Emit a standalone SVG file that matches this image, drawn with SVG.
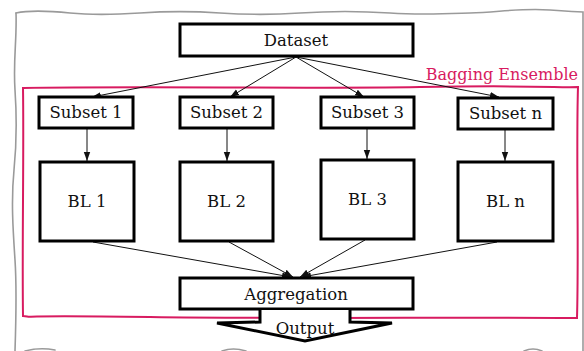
<svg xmlns="http://www.w3.org/2000/svg" width="584" height="351" viewBox="0 0 584 351">
  <style>
    .box { fill: #ffffff; stroke: #000000; stroke-width: 3; }
    .lbl { font-family: "DejaVu Serif", "Liberation Serif", serif; font-size: 16.5px; fill: #111111; text-anchor: middle; }
    .edge { stroke: #111111; stroke-width: 1; fill: none; marker-end: url(#arrow); }
    .frame { fill: none; stroke: #9a9a9a; stroke-width: 1.6; stroke-linecap: round; }
    .ensemble { fill: none; stroke: #d81b60; stroke-width: 2; }
  </style>
  <defs>
    <marker id="arrow" markerUnits="userSpaceOnUse" markerWidth="10" markerHeight="8" refX="9" refY="4" orient="auto">
      <path d="M0,0.8 L9,4 L0,7.2 Z" fill="#111111"/>
    </marker>
  </defs>

  <rect width="584" height="351" fill="#ffffff"/>

  <!-- torn paper outline -->
  <g id="paper">
    <path class="frame" d="M16 13 C30 10 50 11 70 13 S110 15 140 13 S190 11 220 13 S270 15 300 13 S360 11 390 13 S440 14 470 13 S520 8 550 10 S575 12 583 12 L583 351"/>
    <path class="frame" d="M16 13 C17 40 13 60 15 90 S17 140 14 170 S13 230 15 260 S16 320 15 351"/>
    <path class="frame" d="M25 351 Q40 347 55 350"/>
    <path class="frame" d="M222 351 Q233 347 246 351"/>
    <path class="frame" d="M524 351 Q533 347 542 351"/>
  </g>

  <!-- ensemble boundary -->
  <g id="ensemble">
    <path class="ensemble" d="M23 88 C150 86 300 89 420 87 S560 88 578 87 C576 150 579 250 577 318 C450 317 300 319 150 317 S40 318 23 316 C22 250 24 150 23 88 Z"/>
    <text x="578" y="80" font-family="DejaVu Serif, Liberation Serif, serif" font-size="16" fill="#d81b60" text-anchor="end">Bagging Ensemble</text>
  </g>

  <!-- connectors -->
  <g id="connectors">
    <line class="edge" x1="296" y1="57" x2="92" y2="97"/>
    <line class="edge" x1="296" y1="57" x2="230" y2="97"/>
    <line class="edge" x1="296" y1="57" x2="364" y2="97"/>
    <line class="edge" x1="296" y1="57" x2="499" y2="97"/>

    <line class="edge" x1="87" y1="129" x2="87" y2="161"/>
    <line class="edge" x1="227" y1="129" x2="227" y2="161"/>
    <line class="edge" x1="367" y1="129" x2="367" y2="159"/>
    <line class="edge" x1="505" y1="130" x2="505" y2="161"/>

    <line class="edge" x1="93" y1="242" x2="291" y2="277"/>
    <line class="edge" x1="229" y1="242" x2="293" y2="277"/>
    <line class="edge" x1="365" y1="240" x2="300" y2="277"/>
    <line class="edge" x1="497" y1="242" x2="302" y2="277"/>
  </g>

  <g id="dataset">
    <rect class="box" x="180" y="24" width="233" height="32"/>
    <text class="lbl" x="296" y="46">Dataset</text>
  </g>

  <g id="subset1">
    <rect class="box" x="39" y="97" width="94" height="31"/>
    <text class="lbl" x="86" y="118">Subset 1</text>
  </g>
  <g id="subset2">
    <rect class="box" x="180" y="97" width="93" height="31"/>
    <text class="lbl" x="226.5" y="118">Subset 2</text>
  </g>
  <g id="subset3">
    <rect class="box" x="321" y="97" width="93" height="31"/>
    <text class="lbl" x="367.5" y="118">Subset 3</text>
  </g>
  <g id="subsetn">
    <rect class="box" x="458" y="98" width="95" height="31"/>
    <text class="lbl" x="505.5" y="119">Subset n</text>
  </g>

  <g id="bl1">
    <rect class="box" x="40" y="162" width="94" height="79"/>
    <text class="lbl" x="87" y="207">BL 1</text>
  </g>
  <g id="bl2">
    <rect class="box" x="180" y="162" width="93" height="79"/>
    <text class="lbl" x="226.5" y="207">BL 2</text>
  </g>
  <g id="bl3">
    <rect class="box" x="321" y="160" width="93" height="79"/>
    <text class="lbl" x="367.5" y="205">BL 3</text>
  </g>
  <g id="bln">
    <rect class="box" x="458" y="162" width="95" height="79"/>
    <text class="lbl" x="505.5" y="207">BL n</text>
  </g>

  <g id="aggregation">
    <rect class="box" x="180" y="278" width="233" height="31"/>
    <text class="lbl" x="296" y="300">Aggregation</text>
  </g>

  <g id="output">
    <path d="M260 310 L260 322 L217 323 L305 341 L392 323 L350 322 L350 310" fill="#ffffff" stroke="#000000" stroke-width="3" stroke-linejoin="miter"/>
    <text class="lbl" x="305" y="334">Output</text>
  </g>
</svg>
